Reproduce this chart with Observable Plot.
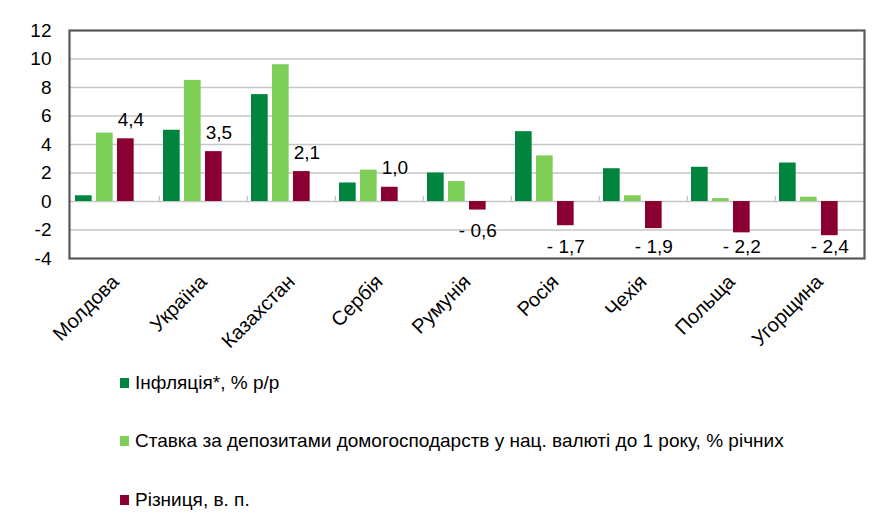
<!DOCTYPE html>
<html>
<head>
<meta charset="utf-8">
<script src="https://cdn.jsdelivr.net/npm/d3@7"></script>
<script src="https://cdn.jsdelivr.net/npm/@observablehq/plot@0.6"></script>
<style>
  html, body { margin: 0; padding: 0; background: #fff; }
  body { width: 888px; height: 532px; position: relative; overflow: hidden; font-family: "Liberation Sans", Arial, sans-serif; }
  #chart { position: absolute; left: 0; top: 0; }
  .leg { position: absolute; left: 120px; display: flex; align-items: center; font-size: 19px; color: #000; white-space: nowrap; }
  .leg .sw { width: 9px; height: 10px; margin-right: 6px; }
</style>
</head>
<body>
<div id="chart"></div>
<div id="legend"></div>
<script>
const countries = ["Молдова", "Україна", "Казахстан", "Сербія", "Румунія", "Росія", "Чехія", "Польща", "Угорщина"];
const inflation = [0.4, 5.0, 7.5, 1.3, 2.0, 4.9, 2.3, 2.4, 2.7];
const depositRate = [4.8, 8.5, 9.6, 2.2, 1.4, 3.2, 0.4, 0.2, 0.3];
const difference = [4.4, 3.5, 2.1, 1.0, -0.6, -1.7, -1.9, -2.2, -2.4];
const yTicks = [-4, -2, 0, 2, 4, 6, 8, 10, 12];
const gridLines = [-2, 0, 2, 4, 6, 8, 10];
const seriesNames = [
  "Інфляція*, % р/р",
  "Ставка за депозитами домогосподарств у нац. валюті до 1 року, % річних",
  "Різниця, в. п."
];
const colors = ["#00843e", "#7ecf58", "#8a0032"];

const rows = countries.map((c, i) => ({country: c, inf: inflation[i], dep: depositRate[i], diff: difference[i]}));

const W = 888, H = 360, mL = 69, mR = 24;
const band = (W - mL - mR) / countries.length;
const barW = 17, step = 21, pad = 4;
const insets = k => ({insetLeft: pad + step * k, insetRight: band - (pad + step * k + barW)});
const redCenterOffset = pad + step * 2 + barW / 2 - band / 2;

const fmt = v => (v < 0 ? "- " : "") + Math.abs(v).toFixed(1).replace(".", ",");

const plot = Plot.plot({
  width: W,
  height: H,
  marginLeft: mL,
  marginRight: mR,
  marginTop: 30,
  marginBottom: H - 258,
  style: {fontFamily: "'Liberation Sans', Arial, sans-serif", fontSize: "18px", color: "#000", background: "#fff"},
  x: {type: "band", domain: countries, padding: 0, label: null},
  y: {domain: [-4, 12], label: null},
  marks: [
    Plot.ruleY(gridLines, {stroke: "#c6c6c6", strokeWidth: 1.3}),
    Plot.ruleX(countries.slice(1), {x: d => d, dx: -band / 2, y1: 0, y2: 0.35, stroke: "#c6c6c6", strokeWidth: 1.3}),
    Plot.barY(rows, {x: "country", y: "inf", fill: colors[0], ...insets(0)}),
    Plot.barY(rows, {x: "country", y: "dep", fill: colors[1], ...insets(1)}),
    Plot.barY(rows, {x: "country", y: "diff", fill: colors[2], ...insets(2)}),
    Plot.text(rows.filter(d => d.diff >= 0), {x: "country", y: "diff", text: d => fmt(d.diff), dx: redCenterOffset + 5, dy: -19, fontSize: 19, fill: "#000"}),
    Plot.text(rows.filter(d => d.diff < 0), {x: "country", y: d => Math.max(d.diff, -1.7), text: d => fmt(d.diff), dx: redCenterOffset, dy: 21, fontSize: 19, fill: "#000"}),
    Plot.frame({stroke: "#595959", strokeWidth: 2.2}),
    Plot.axisY({ticks: yTicks, tickSize: 0, tickPadding: 18, fontSize: 19, tickFormat: d => String(d).replace("−", "-"), label: null}),
    Plot.axisX({tickRotate: -45, tickSize: 0, tickPadding: 20, dx: 0, fontSize: 20, label: null})
  ]
});
document.getElementById("chart").appendChild(plot);

const legendTops = [383, 441, 500];
const leg = document.getElementById("legend");
seriesNames.forEach((name, k) => {
  const div = document.createElement("div");
  div.className = "leg";
  div.style.top = (legendTops[k] - 11) + "px";
  div.innerHTML = `<span class="sw" style="background:${colors[k]}"></span><span>${name}</span>`;
  leg.appendChild(div);
});
</script>
</body>
</html>
